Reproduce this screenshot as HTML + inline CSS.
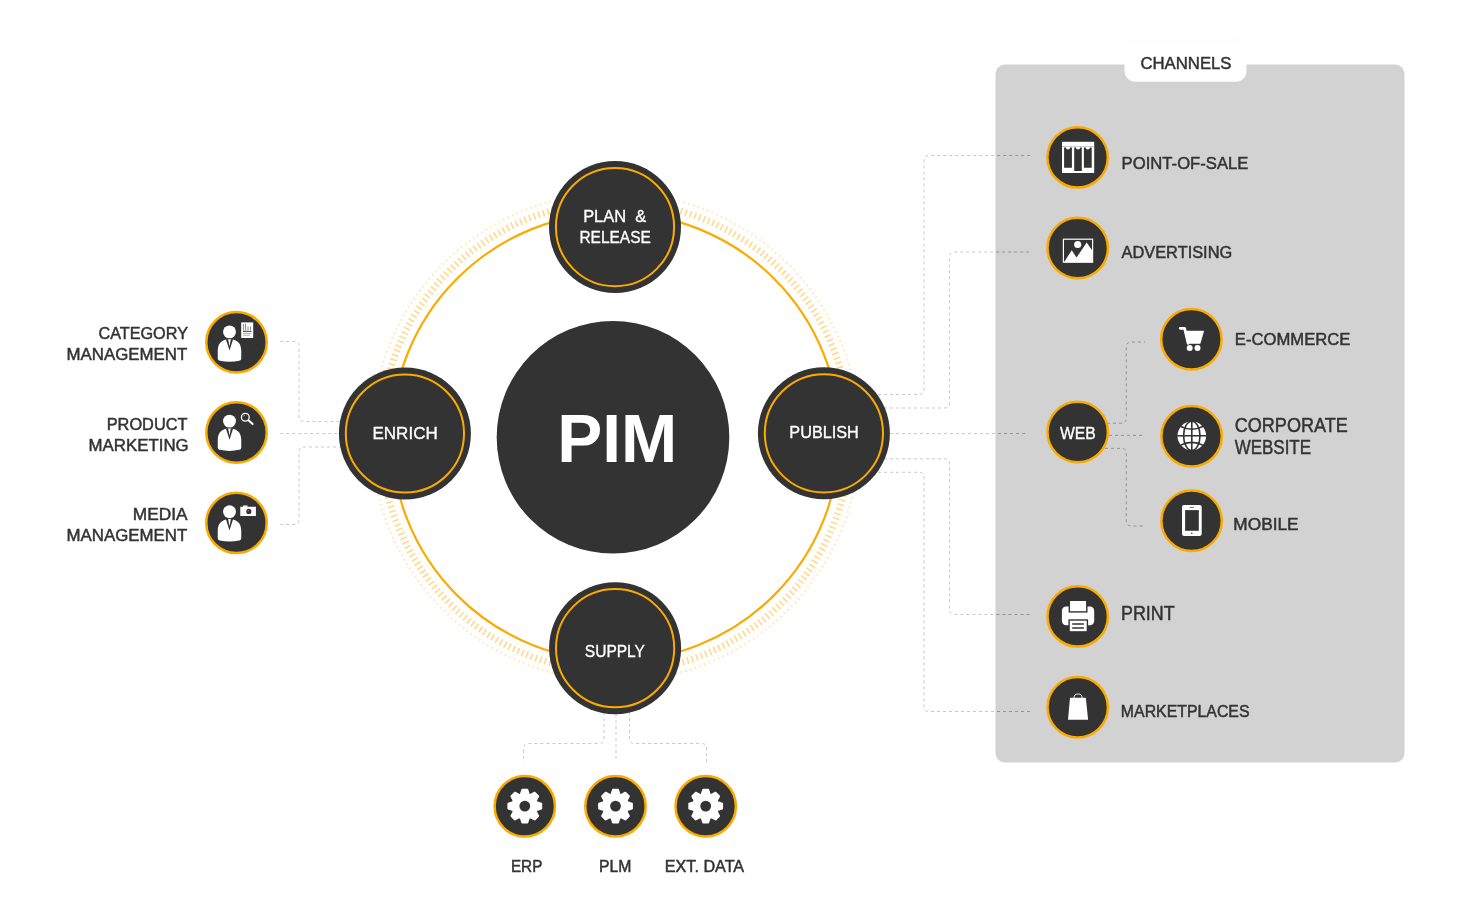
<!DOCTYPE html>
<html lang="en"><head><meta charset="utf-8"><title>PIM</title>
<style>html,body{margin:0;padding:0;background:#fff;}svg{display:block;will-change:transform;}text{font-family:"Liberation Sans", Arial, Helvetica, sans-serif;white-space:pre;}</style></head><body>
<svg width="1473" height="921" viewBox="0 0 1473 921">
<rect width="1473" height="921" fill="#ffffff"/>
<defs><clipPath id="pc"><rect x="995.5" y="64.4" width="409" height="697.8"/></clipPath></defs>
<rect x="995.5" y="64.4" width="409" height="698.2" rx="9.5" ry="9.5" fill="#D2D2D2"/>
<rect x="1124.8" y="40" width="121.5" height="41.5" rx="10" ry="10" fill="#ffffff" stroke="#f6f6f6" stroke-width="0.6"/>
<circle cx="615.55" cy="436.95" r="235.05" fill="none" stroke="#FFDB92" stroke-width="6.9" stroke-dasharray="1.700 3.126" stroke-dashoffset="-0.381"/>
<circle cx="615.55" cy="436.95" r="244.25" fill="none" stroke="#FFEAC2" stroke-width="2.4" stroke-dasharray="1.700 3.315" stroke-dashoffset="-0.429"/>
<circle cx="615.55" cy="436.95" r="224.05" fill="none" stroke="#FBAB00" stroke-width="2.2"/>
<path d="M280.3 341.5 H294 Q299 341.5 299 346.5 V416.5 Q299 421.5 304 421.5 H340" fill="none" stroke="#1e1e1e" stroke-opacity="0.24" stroke-width="1" stroke-dasharray="3 3"/>
<path d="M280.3 341.5 H294 Q299 341.5 299 346.5 V416.5 Q299 421.5 304 421.5 H340" fill="none" stroke="#1e1e1e" stroke-opacity="0.12" stroke-width="1" stroke-dasharray="3 3" clip-path="url(#pc)"/>
<path d="M280.3 433.5 H340" fill="none" stroke="#1e1e1e" stroke-opacity="0.24" stroke-width="1" stroke-dasharray="3 3"/>
<path d="M280.3 433.5 H340" fill="none" stroke="#1e1e1e" stroke-opacity="0.12" stroke-width="1" stroke-dasharray="3 3" clip-path="url(#pc)"/>
<path d="M280.3 524.5 H294 Q299 524.5 299 519.5 V452 Q299 447 304 447 H340" fill="none" stroke="#1e1e1e" stroke-opacity="0.24" stroke-width="1" stroke-dasharray="3 3"/>
<path d="M280.3 524.5 H294 Q299 524.5 299 519.5 V452 Q299 447 304 447 H340" fill="none" stroke="#1e1e1e" stroke-opacity="0.12" stroke-width="1" stroke-dasharray="3 3" clip-path="url(#pc)"/>
<path d="M604 712 V738.5 Q604 743.5 599 743.5 H528.5 Q523.5 743.5 523.5 748.5 V762" fill="none" stroke="#1e1e1e" stroke-opacity="0.24" stroke-width="1" stroke-dasharray="3 3"/>
<path d="M604 712 V738.5 Q604 743.5 599 743.5 H528.5 Q523.5 743.5 523.5 748.5 V762" fill="none" stroke="#1e1e1e" stroke-opacity="0.12" stroke-width="1" stroke-dasharray="3 3" clip-path="url(#pc)"/>
<path d="M616 714 V762" fill="none" stroke="#1e1e1e" stroke-opacity="0.24" stroke-width="1" stroke-dasharray="3 3"/>
<path d="M616 714 V762" fill="none" stroke="#1e1e1e" stroke-opacity="0.12" stroke-width="1" stroke-dasharray="3 3" clip-path="url(#pc)"/>
<path d="M629.5 712 V738.5 Q629.5 743.5 634.5 743.5 H701.5 Q706.5 743.5 706.5 748.5 V762" fill="none" stroke="#1e1e1e" stroke-opacity="0.24" stroke-width="1" stroke-dasharray="3 3"/>
<path d="M629.5 712 V738.5 Q629.5 743.5 634.5 743.5 H701.5 Q706.5 743.5 706.5 748.5 V762" fill="none" stroke="#1e1e1e" stroke-opacity="0.12" stroke-width="1" stroke-dasharray="3 3" clip-path="url(#pc)"/>
<path d="M878 394.5 H919 Q924 394.5 924 389.5 V160.5 Q924 155.5 929 155.5 H1030" fill="none" stroke="#1e1e1e" stroke-opacity="0.24" stroke-width="1" stroke-dasharray="3 3"/>
<path d="M878 394.5 H919 Q924 394.5 924 389.5 V160.5 Q924 155.5 929 155.5 H1030" fill="none" stroke="#1e1e1e" stroke-opacity="0.12" stroke-width="1" stroke-dasharray="3 3" clip-path="url(#pc)"/>
<path d="M884 408 H944.5 Q949.5 408 949.5 403 V257 Q949.5 252 954.5 252 H1030" fill="none" stroke="#1e1e1e" stroke-opacity="0.24" stroke-width="1" stroke-dasharray="3 3"/>
<path d="M884 408 H944.5 Q949.5 408 949.5 403 V257 Q949.5 252 954.5 252 H1030" fill="none" stroke="#1e1e1e" stroke-opacity="0.12" stroke-width="1" stroke-dasharray="3 3" clip-path="url(#pc)"/>
<path d="M890 433.5 H1028" fill="none" stroke="#1e1e1e" stroke-opacity="0.24" stroke-width="1" stroke-dasharray="3 3"/>
<path d="M890 433.5 H1028" fill="none" stroke="#1e1e1e" stroke-opacity="0.12" stroke-width="1" stroke-dasharray="3 3" clip-path="url(#pc)"/>
<path d="M884 458.8 H944.5 Q949.5 458.8 949.5 463.8 V609.5 Q949.5 614.5 954.5 614.5 H1030" fill="none" stroke="#1e1e1e" stroke-opacity="0.24" stroke-width="1" stroke-dasharray="3 3"/>
<path d="M884 458.8 H944.5 Q949.5 458.8 949.5 463.8 V609.5 Q949.5 614.5 954.5 614.5 H1030" fill="none" stroke="#1e1e1e" stroke-opacity="0.12" stroke-width="1" stroke-dasharray="3 3" clip-path="url(#pc)"/>
<path d="M878 472.3 H919 Q924 472.3 924 477.3 V706.5 Q924 711.5 929 711.5 H1030" fill="none" stroke="#1e1e1e" stroke-opacity="0.24" stroke-width="1" stroke-dasharray="3 3"/>
<path d="M878 472.3 H919 Q924 472.3 924 477.3 V706.5 Q924 711.5 929 711.5 H1030" fill="none" stroke="#1e1e1e" stroke-opacity="0.12" stroke-width="1" stroke-dasharray="3 3" clip-path="url(#pc)"/>
<path d="M1107 423.2 H1121.3 Q1126.3 423.2 1126.3 418.2 V347 Q1126.3 342 1131.3 342 H1145" fill="none" stroke="#1e1e1e" stroke-opacity="0.24" stroke-width="1" stroke-dasharray="3 3"/>
<path d="M1107 423.2 H1121.3 Q1126.3 423.2 1126.3 418.2 V347 Q1126.3 342 1131.3 342 H1145" fill="none" stroke="#1e1e1e" stroke-opacity="0.12" stroke-width="1" stroke-dasharray="3 3" clip-path="url(#pc)"/>
<path d="M1109 435.4 H1145" fill="none" stroke="#1e1e1e" stroke-opacity="0.24" stroke-width="1" stroke-dasharray="3 3"/>
<path d="M1109 435.4 H1145" fill="none" stroke="#1e1e1e" stroke-opacity="0.12" stroke-width="1" stroke-dasharray="3 3" clip-path="url(#pc)"/>
<path d="M1105 448.4 H1121.3 Q1126.3 448.4 1126.3 453.4 V521 Q1126.3 526 1131.3 526 H1145" fill="none" stroke="#1e1e1e" stroke-opacity="0.24" stroke-width="1" stroke-dasharray="3 3"/>
<path d="M1105 448.4 H1121.3 Q1126.3 448.4 1126.3 453.4 V521 Q1126.3 526 1131.3 526 H1145" fill="none" stroke="#1e1e1e" stroke-opacity="0.12" stroke-width="1" stroke-dasharray="3 3" clip-path="url(#pc)"/>
<circle cx="613" cy="437.3" r="116.3" fill="#333333"/>
<text x="557.21" y="462.10" font-size="69.40" font-weight="bold" fill="#ffffff" xml:space="preserve" textLength="119.97" lengthAdjust="spacingAndGlyphs">PIM</text>
<circle cx="615" cy="227.1" r="66" fill="#333333"/>
<circle cx="615" cy="227.1" r="59.1" fill="none" stroke="#FBAB00" stroke-width="2"/>
<circle cx="404.9" cy="433.5" r="66" fill="#333333"/>
<circle cx="404.9" cy="433.5" r="59.1" fill="none" stroke="#FBAB00" stroke-width="2"/>
<circle cx="823.9" cy="433.3" r="66" fill="#333333"/>
<circle cx="823.9" cy="433.3" r="59.1" fill="none" stroke="#FBAB00" stroke-width="2"/>
<circle cx="615.1" cy="648.2" r="66" fill="#333333"/>
<circle cx="615.1" cy="648.2" r="59.1" fill="none" stroke="#FBAB00" stroke-width="2"/>
<text x="583.15" y="222.00" font-size="16.79" font-weight="normal" fill="#ffffff" stroke="#ffffff" stroke-width="0.34" stroke-linejoin="round" xml:space="preserve" textLength="63.12" lengthAdjust="spacingAndGlyphs">PLAN  &amp;</text>
<text x="579.43" y="242.90" font-size="16.79" font-weight="normal" fill="#ffffff" stroke="#ffffff" stroke-width="0.34" stroke-linejoin="round" xml:space="preserve" textLength="71.37" lengthAdjust="spacingAndGlyphs">RELEASE</text>
<text x="372.41" y="439.30" font-size="16.93" font-weight="normal" fill="#ffffff" stroke="#ffffff" stroke-width="0.34" stroke-linejoin="round" xml:space="preserve" textLength="65.35" lengthAdjust="spacingAndGlyphs">ENRICH</text>
<text x="789.37" y="438.10" font-size="16.93" font-weight="normal" fill="#ffffff" stroke="#ffffff" stroke-width="0.34" stroke-linejoin="round" xml:space="preserve" textLength="69.43" lengthAdjust="spacingAndGlyphs">PUBLISH</text>
<text x="584.87" y="656.90" font-size="16.79" font-weight="normal" fill="#ffffff" stroke="#ffffff" stroke-width="0.34" stroke-linejoin="round" xml:space="preserve" textLength="60.10" lengthAdjust="spacingAndGlyphs">SUPPLY</text>
<text x="98.43" y="338.90" font-size="16.64" font-weight="normal" fill="#333333" stroke="#333333" stroke-width="0.48" stroke-linejoin="round" xml:space="preserve" textLength="89.55" lengthAdjust="spacingAndGlyphs">CATEGORY</text>
<text x="66.49" y="359.80" font-size="16.64" font-weight="normal" fill="#333333" stroke="#333333" stroke-width="0.48" stroke-linejoin="round" xml:space="preserve" textLength="120.84" lengthAdjust="spacingAndGlyphs">MANAGEMENT</text>
<text x="106.73" y="429.90" font-size="16.64" font-weight="normal" fill="#333333" stroke="#333333" stroke-width="0.48" stroke-linejoin="round" xml:space="preserve" textLength="80.74" lengthAdjust="spacingAndGlyphs">PRODUCT</text>
<text x="88.59" y="450.80" font-size="16.64" font-weight="normal" fill="#333333" stroke="#333333" stroke-width="0.48" stroke-linejoin="round" xml:space="preserve" textLength="100.13" lengthAdjust="spacingAndGlyphs">MARKETING</text>
<text x="132.76" y="519.90" font-size="16.64" font-weight="normal" fill="#333333" stroke="#333333" stroke-width="0.48" stroke-linejoin="round" xml:space="preserve" textLength="54.74" lengthAdjust="spacingAndGlyphs">MEDIA</text>
<text x="66.49" y="540.80" font-size="16.64" font-weight="normal" fill="#333333" stroke="#333333" stroke-width="0.48" stroke-linejoin="round" xml:space="preserve" textLength="120.84" lengthAdjust="spacingAndGlyphs">MANAGEMENT</text>
<circle cx="236.5" cy="342.3" r="30.2" fill="#333333" stroke="#FBAB00" stroke-width="2.5"/>
<circle cx="229.50" cy="331.90" r="6.45" fill="#fff"/>
<path d="M217.75 358.55 V351.10 C217.75 344.60 220.50 340.80 226.20 339.60 H232.80 C238.50 340.80 241.25 344.60 241.25 351.10 V358.55 Q241.25 360.45 239.25 360.65 Q229.50 362.85 219.75 360.65 Q217.75 360.45 217.75 358.55Z" fill="#fff"/>
<path d="M225.90 339.20 L229.50 350.60 L233.10 339.20Z" fill="#333333"/>
<path d="M228.15 339.20 L229.50 346.50 L230.85 339.20Z" fill="#fff"/>
<circle cx="236.5" cy="432.5" r="30.2" fill="#333333" stroke="#FBAB00" stroke-width="2.5"/>
<circle cx="229.50" cy="421.10" r="6.45" fill="#fff"/>
<path d="M217.75 447.75 V440.30 C217.75 433.80 220.50 430.00 226.20 428.80 H232.80 C238.50 430.00 241.25 433.80 241.25 440.30 V447.75 Q241.25 449.65 239.25 449.85 Q229.50 452.05 219.75 449.85 Q217.75 449.65 217.75 447.75Z" fill="#fff"/>
<path d="M225.90 428.40 L229.50 439.80 L233.10 428.40Z" fill="#333333"/>
<path d="M228.15 428.40 L229.50 435.70 L230.85 428.40Z" fill="#fff"/>
<circle cx="236.5" cy="522.9" r="30.2" fill="#333333" stroke="#FBAB00" stroke-width="2.5"/>
<circle cx="229.50" cy="511.70" r="6.45" fill="#fff"/>
<path d="M217.75 538.35 V530.90 C217.75 524.40 220.50 520.60 226.20 519.40 H232.80 C238.50 520.60 241.25 524.40 241.25 530.90 V538.35 Q241.25 540.25 239.25 540.45 Q229.50 542.65 219.75 540.45 Q217.75 540.25 217.75 538.35Z" fill="#fff"/>
<path d="M225.90 519.00 L229.50 530.40 L233.10 519.00Z" fill="#333333"/>
<path d="M228.15 519.00 L229.50 526.30 L230.85 519.00Z" fill="#fff"/>
<rect x="241.2" y="322.4" width="12" height="15.6" fill="#fff"/>
<path d="M243.6 324 V330.5 M245.6 323.6 V330.5 M248 326.5 V330.5 M250.4 326.5 V330.5" stroke="#888" stroke-width="1" fill="none"/>
<path d="M243 331.4 H251.5" stroke="#333333" stroke-width="0.9"/>
<path d="M243 333.4 H251.5 M243 335.2 H250" stroke="#999" stroke-width="0.8"/>
<circle cx="245.3" cy="417.3" r="3.9" fill="none" stroke="#fff" stroke-width="1.3"/>
<path d="M243.2 416.6 A2.2 2.2 0 0 1 245 415.2" fill="none" stroke="#fff" stroke-opacity="0.55" stroke-width="0.8"/>
<path d="M248.5 420.3 L252.6 424.1" stroke="#fff" stroke-width="2" stroke-linecap="round"/>
<path d="M240.3 506.8 H243 V505.6 H247.5 V506.8 H255.9 V515.9 H240.3Z" fill="#fff"/>
<circle cx="248.8" cy="511.4" r="2.6" fill="#333333"/>
<circle cx="248.2" cy="510.8" r="0.8" fill="#777"/>
<circle cx="524.8" cy="806.3" r="30.2" fill="#333333" stroke="#FBAB00" stroke-width="2.5"/>
<g transform="translate(524.8 806.1)" fill="#fff" stroke="#fff" stroke-width="2" stroke-linejoin="round">
<circle r="12.2"/>
<path transform="rotate(0)" d="M-4.2 -11 L-2.5 -16.4 H2.5 L4.2 -11Z"/>
<path transform="rotate(45)" d="M-4.2 -11 L-2.5 -16.4 H2.5 L4.2 -11Z"/>
<path transform="rotate(90)" d="M-4.2 -11 L-2.5 -16.4 H2.5 L4.2 -11Z"/>
<path transform="rotate(135)" d="M-4.2 -11 L-2.5 -16.4 H2.5 L4.2 -11Z"/>
<path transform="rotate(180)" d="M-4.2 -11 L-2.5 -16.4 H2.5 L4.2 -11Z"/>
<path transform="rotate(225)" d="M-4.2 -11 L-2.5 -16.4 H2.5 L4.2 -11Z"/>
<path transform="rotate(270)" d="M-4.2 -11 L-2.5 -16.4 H2.5 L4.2 -11Z"/>
<path transform="rotate(315)" d="M-4.2 -11 L-2.5 -16.4 H2.5 L4.2 -11Z"/>
<circle r="5.4" fill="#333333" stroke="none"/>
</g>
<circle cx="615.5" cy="806.3" r="30.2" fill="#333333" stroke="#FBAB00" stroke-width="2.5"/>
<g transform="translate(615.5 806.1)" fill="#fff" stroke="#fff" stroke-width="2" stroke-linejoin="round">
<circle r="12.2"/>
<path transform="rotate(0)" d="M-4.2 -11 L-2.5 -16.4 H2.5 L4.2 -11Z"/>
<path transform="rotate(45)" d="M-4.2 -11 L-2.5 -16.4 H2.5 L4.2 -11Z"/>
<path transform="rotate(90)" d="M-4.2 -11 L-2.5 -16.4 H2.5 L4.2 -11Z"/>
<path transform="rotate(135)" d="M-4.2 -11 L-2.5 -16.4 H2.5 L4.2 -11Z"/>
<path transform="rotate(180)" d="M-4.2 -11 L-2.5 -16.4 H2.5 L4.2 -11Z"/>
<path transform="rotate(225)" d="M-4.2 -11 L-2.5 -16.4 H2.5 L4.2 -11Z"/>
<path transform="rotate(270)" d="M-4.2 -11 L-2.5 -16.4 H2.5 L4.2 -11Z"/>
<path transform="rotate(315)" d="M-4.2 -11 L-2.5 -16.4 H2.5 L4.2 -11Z"/>
<circle r="5.4" fill="#333333" stroke="none"/>
</g>
<circle cx="705.7" cy="806.3" r="30.2" fill="#333333" stroke="#FBAB00" stroke-width="2.5"/>
<g transform="translate(705.7 806.1)" fill="#fff" stroke="#fff" stroke-width="2" stroke-linejoin="round">
<circle r="12.2"/>
<path transform="rotate(0)" d="M-4.2 -11 L-2.5 -16.4 H2.5 L4.2 -11Z"/>
<path transform="rotate(45)" d="M-4.2 -11 L-2.5 -16.4 H2.5 L4.2 -11Z"/>
<path transform="rotate(90)" d="M-4.2 -11 L-2.5 -16.4 H2.5 L4.2 -11Z"/>
<path transform="rotate(135)" d="M-4.2 -11 L-2.5 -16.4 H2.5 L4.2 -11Z"/>
<path transform="rotate(180)" d="M-4.2 -11 L-2.5 -16.4 H2.5 L4.2 -11Z"/>
<path transform="rotate(225)" d="M-4.2 -11 L-2.5 -16.4 H2.5 L4.2 -11Z"/>
<path transform="rotate(270)" d="M-4.2 -11 L-2.5 -16.4 H2.5 L4.2 -11Z"/>
<path transform="rotate(315)" d="M-4.2 -11 L-2.5 -16.4 H2.5 L4.2 -11Z"/>
<circle r="5.4" fill="#333333" stroke="none"/>
</g>
<text x="510.92" y="871.90" font-size="16.21" font-weight="normal" fill="#333333" stroke="#333333" stroke-width="0.48" stroke-linejoin="round" xml:space="preserve" textLength="31.43" lengthAdjust="spacingAndGlyphs">ERP</text>
<text x="598.88" y="871.90" font-size="16.21" font-weight="normal" fill="#333333" stroke="#333333" stroke-width="0.48" stroke-linejoin="round" xml:space="preserve" textLength="32.47" lengthAdjust="spacingAndGlyphs">PLM</text>
<text x="664.75" y="871.90" font-size="16.21" font-weight="normal" fill="#333333" stroke="#333333" stroke-width="0.48" stroke-linejoin="round" xml:space="preserve" textLength="79.37" lengthAdjust="spacingAndGlyphs">EXT. DATA</text>
<text x="1140.40" y="68.90" font-size="16.35" font-weight="normal" fill="#333333" stroke="#333333" stroke-width="0.48" stroke-linejoin="round" xml:space="preserve" textLength="91.13" lengthAdjust="spacingAndGlyphs">CHANNELS</text>
<circle cx="1077.6" cy="157.4" r="30.2" fill="#333333" stroke="#FBAB00" stroke-width="2.5"/>
<rect x="1062" y="141.8" width="32.2" height="31.2" fill="#fff"/>
<path d="M1062 146.5 H1094.2" stroke="#aaa" stroke-width="0.6"/>
<path d="M1064.1 147.5 H1065.90 A2.1 2.1 0 0 0 1070.10 147.5 H1071.9 V167.8 H1064.1Z" fill="#333333"/>
<path d="M1074.2 147.5 H1075.90 A2.1 2.1 0 0 0 1080.10 147.5 H1081.8 V170.9 H1074.2Z" fill="#333333"/>
<path d="M1083.9 147.5 H1085.70 A2.1 2.1 0 0 0 1089.90 147.5 H1091.7 V167.8 H1083.9Z" fill="#333333"/>
<circle cx="1077.7" cy="248.0" r="30.2" fill="#333333" stroke="#FBAB00" stroke-width="2.5"/>
<rect x="1063.4" y="239.2" width="29.2" height="23.0" fill="none" stroke="#fff" stroke-width="1.2"/>
<circle cx="1077.7" cy="244.5" r="3.6" fill="#fff"/>
<path d="M1064 262.2 L1071.8 250.2 L1076.5 257.6 L1086.7 242.6 L1092.6 251 V262.2Z" fill="#fff"/>
<circle cx="1077.7" cy="432.0" r="30.2" fill="#333333" stroke="#FBAB00" stroke-width="2.5"/>
<text x="1059.89" y="438.90" font-size="16.35" font-weight="normal" fill="#ffffff" stroke="#ffffff" stroke-width="0.34" stroke-linejoin="round" xml:space="preserve" textLength="35.77" lengthAdjust="spacingAndGlyphs">WEB</text>
<circle cx="1191.4" cy="339.3" r="30.2" fill="#333333" stroke="#FBAB00" stroke-width="2.5"/>
<path d="M1180.2 328.3 H1184.6 L1188.2 343.3" fill="none" stroke="#fff" stroke-width="2.8" stroke-linecap="round" stroke-linejoin="round"/>
<path d="M1185.6 331.1 H1203.7 L1200.2 343.4 H1187.4Z" fill="#fff" stroke="#fff" stroke-width="0.6" stroke-linejoin="round"/>
<circle cx="1189.7" cy="348.1" r="3" fill="#fff"/><circle cx="1197.5" cy="348.1" r="3" fill="#fff"/>
<circle cx="1191.6" cy="436.2" r="30.2" fill="#333333" stroke="#FBAB00" stroke-width="2.5"/>
<circle cx="1191.8" cy="435.8" r="14.3" fill="#fff"/>
<g fill="none" stroke="#333333" stroke-width="1.6"><path d="M1191.8 421.3 V450.3 M1177.3 435.8 H1206.3"/><ellipse cx="1191.8" cy="435.8" rx="8.2" ry="14.6"/><path d="M1180.3 426.2 Q1191.8 432.2 1203.3 426.2"/><path d="M1180.3 445.40000000000003 Q1191.8 439.40000000000003 1203.3 445.40000000000003"/></g>
<circle cx="1191.6" cy="520.7" r="30.2" fill="#333333" stroke="#FBAB00" stroke-width="2.5"/>
<rect x="1182" y="505.1" width="19.7" height="30.8" rx="1.8" ry="1.8" fill="#fff"/>
<rect x="1185.1" y="510.1" width="13.7" height="20.7" fill="#333333"/>
<path d="M1189.7 507.4 H1194" stroke="#333333" stroke-width="0.7"/>
<circle cx="1191.8" cy="533.2" r="0.8" fill="#333333"/>
<circle cx="1077.7" cy="616.4" r="30.2" fill="#333333" stroke="#FBAB00" stroke-width="2.5"/>
<rect x="1061.9" y="606.4" width="32.3" height="18.9" rx="4.2" ry="4.2" fill="#fff"/>
<rect x="1069.3" y="600.3" width="17.5" height="11.6" fill="#fff" stroke="#333333" stroke-width="1.4"/>
<rect x="1069.1" y="620" width="18.3" height="11.9" fill="#fff" stroke="#333333" stroke-width="1.4"/>
<path d="M1072.2 624 H1083.9 M1072.2 628 H1083.9" stroke="#333333" stroke-width="1.5"/>
<circle cx="1077.7" cy="707.2" r="30.2" fill="#333333" stroke="#FBAB00" stroke-width="2.5"/>
<path d="M1070 697.8 H1085.8 L1088.1 719.7 H1068Z" fill="#fff"/>
<path d="M1074 698 A4.05 4.05 0 0 1 1082.1 698" fill="none" stroke="#fff" stroke-width="0.9"/>
<text x="1121.61" y="168.90" font-size="16.79" font-weight="normal" fill="#333333" stroke="#333333" stroke-width="0.48" stroke-linejoin="round" xml:space="preserve" textLength="126.86" lengthAdjust="spacingAndGlyphs">POINT-OF-SALE</text>
<text x="1121.54" y="257.80" font-size="16.64" font-weight="normal" fill="#333333" stroke="#333333" stroke-width="0.48" stroke-linejoin="round" xml:space="preserve" textLength="110.68" lengthAdjust="spacingAndGlyphs">ADVERTISING</text>
<text x="1234.81" y="344.80" font-size="16.64" font-weight="normal" fill="#333333" stroke="#333333" stroke-width="0.48" stroke-linejoin="round" xml:space="preserve" textLength="115.61" lengthAdjust="spacingAndGlyphs">E-COMMERCE</text>
<text x="1234.64" y="431.50" font-size="20.28" font-weight="normal" fill="#333333" stroke="#333333" stroke-width="0.48" stroke-linejoin="round" xml:space="preserve" textLength="113.25" lengthAdjust="spacingAndGlyphs">CORPORATE</text>
<text x="1234.66" y="453.70" font-size="20.28" font-weight="normal" fill="#333333" stroke="#333333" stroke-width="0.48" stroke-linejoin="round" xml:space="preserve" textLength="76.39" lengthAdjust="spacingAndGlyphs">WEBSITE</text>
<text x="1233.36" y="529.90" font-size="16.64" font-weight="normal" fill="#333333" stroke="#333333" stroke-width="0.48" stroke-linejoin="round" xml:space="preserve" textLength="65.16" lengthAdjust="spacingAndGlyphs">MOBILE</text>
<text x="1121.01" y="619.90" font-size="19.40" font-weight="normal" fill="#333333" stroke="#333333" stroke-width="0.48" stroke-linejoin="round" xml:space="preserve" textLength="53.71" lengthAdjust="spacingAndGlyphs">PRINT</text>
<text x="1120.87" y="716.90" font-size="16.64" font-weight="normal" fill="#333333" stroke="#333333" stroke-width="0.48" stroke-linejoin="round" xml:space="preserve" textLength="128.66" lengthAdjust="spacingAndGlyphs">MARKETPLACES</text>
</svg></body></html>
